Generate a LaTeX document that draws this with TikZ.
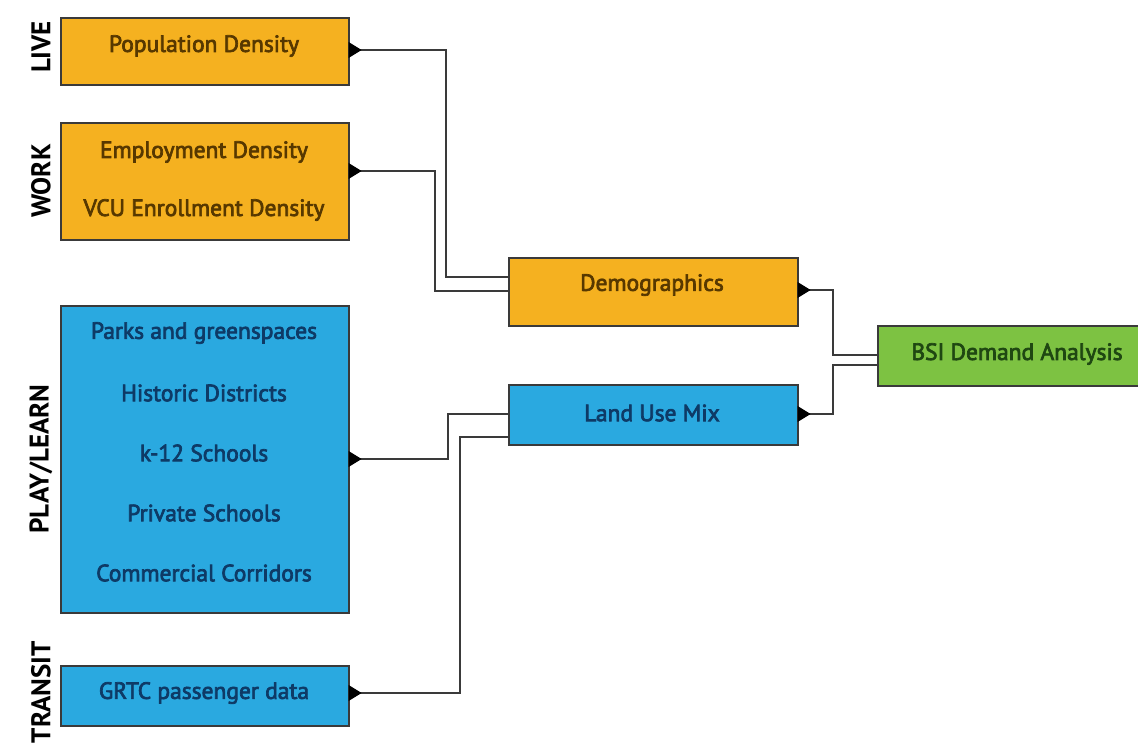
\documentclass[tikz,border=0pt]{standalone}
\usepackage{fontspec}
\setmainfont{PT Sans}
\newfontfamily\itemfont{PT Sans}[FakeBold=3]
\usetikzlibrary{arrows.meta,calc}
\definecolor{orangebox}{HTML}{F5B120}
\definecolor{bluebox}{HTML}{2AA9E0}
\definecolor{greenbox}{HTML}{7DC242}
\definecolor{orangetxt}{HTML}{573800}
\definecolor{bluetxt}{HTML}{0E3A66}
\definecolor{greentxt}{HTML}{1F4712}
\definecolor{edge}{HTML}{3A3A3A}
\tikzset{
  box/.style={draw=edge,line width=1.6pt,anchor=north west,inner sep=0pt},
  obox/.style={box,fill=orangebox},
  bbox/.style={box,fill=bluebox},
  gbox/.style={box,fill=greenbox},
  item/.style={font=\itemfont\fontsize{23.5}{25}\selectfont},
  side/.style={rotate=90,font=\bfseries\fontsize{27}{29}\selectfont,text=black},
  conn/.style={draw=edge,line width=1.7pt},
  tri/.pic={\fill[black] (-1,-8) -- (12,0) -- (-1,8) -- cycle;}
}
\begin{document}
\begin{tikzpicture}[x=1pt,y=-1pt]
\useasboundingbox[fill=white] (0,0) rectangle (1138,749);
% side labels
\node[side] (live) at (41,47) {LIVE};
\node[side] (workl) at (41,181) {WORK};
\node[side] (play) at (41,459) {PLAY/LEARN};
\node[side] (transit) at (41,692) {TRANSIT};
% boxes
\node[obox,minimum width=288pt,minimum height=67pt] (pop) at (60,17) {};
\node[item,text=orangetxt] (popt) at (204,46) {Population Density};
\node[obox,minimum width=288pt,minimum height=117pt] (work) at (60,122) {};
\node[item,text=orangetxt] (emp) at (204,152) {Employment Density};
\node[item,text=orangetxt] (vcu) at (204,210) {VCU Enrollment Density};
\node[bbox,minimum width=288pt,minimum height=307pt] (playb) at (60,305) {};
\node[item,text=bluetxt] (parks) at (204,333) {Parks and greenspaces};
\node[item,text=bluetxt] (hist) at (204,393) {Historic Districts};
\node[item,text=bluetxt] (k12) at (204,453) {k-12 Schools};
\node[item,text=bluetxt] (priv) at (204,513) {Private Schools};
\node[item,text=bluetxt] (comm) at (204,573) {Commercial Corridors};
\node[bbox,minimum width=288pt,minimum height=60pt] (grtc) at (60,665) {};
\node[item,text=bluetxt] (grtct) at (204,693) {GRTC passenger data};
\node[obox,minimum width=289pt,minimum height=68pt] (demo) at (508,257) {};
\node[item,text=orangetxt] (demot) at (652,285) {Demographics};
\node[bbox,minimum width=289pt,minimum height=60pt] (land) at (508,384) {};
\node[item,text=bluetxt] (landt) at (652,413) {Land Use Mix};
\node[gbox,minimum width=268pt,minimum height=60pt] (bsi) at (877,325) {};
\node[item,text=greentxt] (bsit) at (1017,354) {BSI Demand Analysis};
% connectors
\draw[conn] (pop.east |- 0,50) pic{tri} -| (446,277) -- (demo.west |- 0,277);
\draw[conn] (work.east |- 0,171) pic{tri} -| (435,291) -- (demo.west |- 0,291);
\draw[conn] (playb.east |- 0,459) pic{tri} -| (448,414) -- (land.west |- 0,414);
\draw[conn] (grtc.east |- 0,693) pic{tri} -| (460,437) -- (land.west |- 0,437);
\draw[conn] (demo.east |- 0,290) pic{tri} -| (833,355) -- (bsi.west |- 0,355);
\draw[conn] (land.east |- 0,414) pic{tri} -| (833,365) -- (bsi.west |- 0,365);
\end{tikzpicture}
\end{document}
